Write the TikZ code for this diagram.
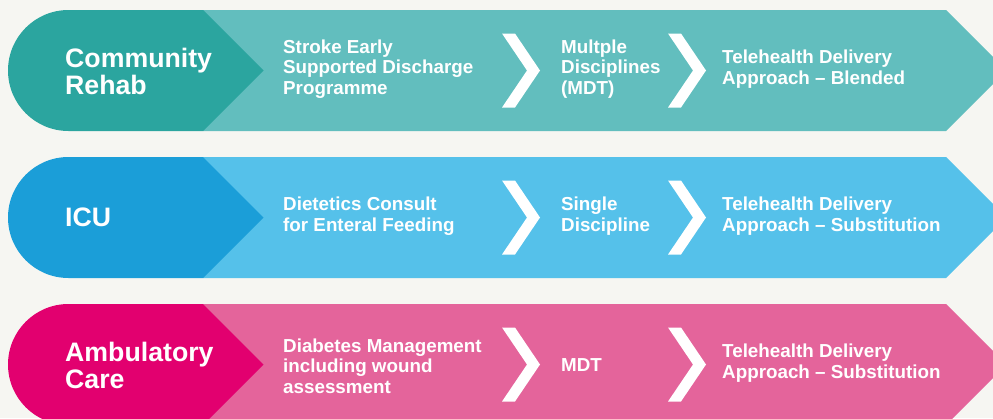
\documentclass[tikz,border=0pt]{standalone}
\usepackage{fontspec}
\setmainfont{Liberation Sans}
\usetikzlibrary{positioning}

\definecolor{bgpaper}{HTML}{F6F6F2}
\definecolor{tealdark}{HTML}{2BA59F}
\definecolor{teallight}{HTML}{62BEBE}
\definecolor{bluedark}{HTML}{1B9ED8}
\definecolor{bluelight}{HTML}{55C1EA}
\definecolor{pinkdark}{HTML}{E2006F}
\definecolor{pinklight}{HTML}{E4649B}

\begin{document}
\begin{tikzpicture}[ x=1pt, y=-1pt,
	head/.style={anchor=west, align=left, text=white, inner sep=0pt,
		font=\fontsize{26.7}{27}\selectfont\bfseries},
	item/.style={anchor=west, align=left, text=white, inner sep=0pt,
		font=\fontsize{18.8}{20.7}\selectfont\bfseries} ]
	\fill[bgpaper] (0,0) rectangle (993,418);
	\clip (0,0) rectangle (993,418);
	% rows: light band, dark head, two white chevrons
	\foreach \cy/\dk/\lt in {70.5/tealdark/teallight, 217.5/bluedark/bluelight, 364.5/pinkdark/pinklight} {
		\fill[\lt] (203,\cy-60.5) -- (946,\cy-60.5) -- (1006.5,\cy) -- (946,\cy+60.5) -- (203,\cy+60.5) -- cycle;
		\fill[\dk] (68.5,\cy) circle (60.5);
		\fill[\dk] (68.5,\cy-60.5) -- (203,\cy-60.5) -- (263.5,\cy) -- (203,\cy+60.5) -- (68.5,\cy+60.5) -- cycle;
		\foreach \x in {502,668}
			\fill[white] (\x,\cy-37) -- (\x+13,\cy-37) -- (\x+38,\cy) -- (\x+13,\cy+37) -- (\x,\cy+37) -- (\x+25,\cy) -- cycle;
	}
	% community rehab
	\node[head] (cr) at (65,71) {Community\\Rehab};
	\node[item] (cr1) at (283,69) {Stroke Early\\Supported Discharge\\Programme};
	\node[item] (cr2) at (561,69) {Multple\\Disciplines\\(MDT)};
	\node[item] (cr3) at (722,69) {Telehealth Delivery\\Approach – Blended};
	% icu
	\node[head] (icu) at (65,217) {ICU};
	\node[item] (icu1) at (283,216) {Dietetics Consult\\for Enteral Feeding};
	\node[item] (icu2) at (561,216) {Single\\Discipline};
	\node[item] (icu3) at (722,216) {Telehealth Delivery\\Approach – Substitution};
	% ambulatory care
	\node[head] (ac) at (65,365) {Ambulatory\\Care};
	\node[item] (ac1) at (283,366) {Diabetes Management\\including wound\\assessment};
	\node[item] (ac2) at (561,365) {MDT};
	\node[item] (ac3) at (722,363) {Telehealth Delivery\\Approach – Substitution};
\end{tikzpicture}
\end{document}
